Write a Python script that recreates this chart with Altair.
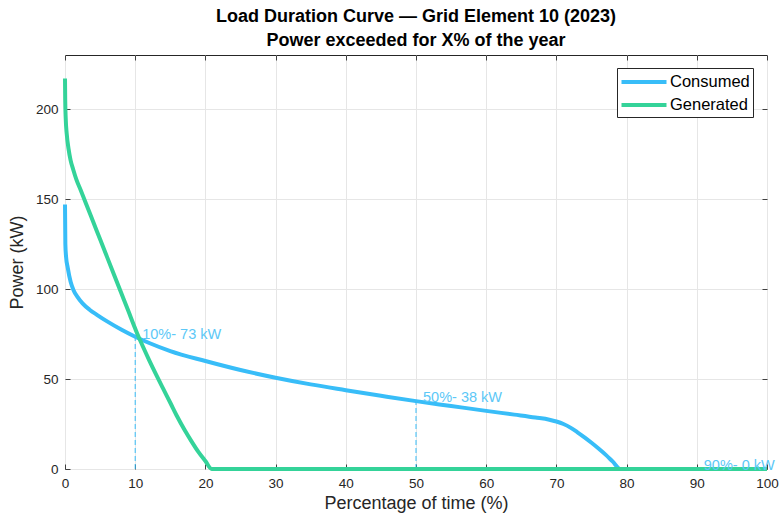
import altair as alt
import pandas as pd

# Consumed load duration curve (x: % of time, y: kW)
cons_x = [0, 0.05, 0.15, 0.38, 0.8, 1.2, 1.8, 2.5, 3.5, 4.6, 6, 8, 10, 12, 15, 20, 25, 30, 35, 40, 45, 50, 55, 60, 64, 67, 69, 70, 71, 72, 73, 74, 75, 76, 77, 78, 79.1, 100]
cons_y = [147, 125, 118, 112, 104, 99.5, 95.5, 92, 88.5, 85.5, 82, 77.5, 73.5, 70, 65.5, 60, 55, 50.7, 47, 43.8, 40.7, 37.7, 35, 32.3, 30.2, 28.6, 27.4, 26.4, 25, 23, 20.4, 17.6, 14.6, 11.4, 8, 4.2, 0, 0]

# Generated load duration curve
gen_x = [0, 0.03, 0.1, 0.25, 0.5, 0.8, 1.2, 1.6, 2.23, 3, 4, 5, 6, 7, 8, 9, 10, 10.45, 11, 12, 13, 14, 15, 16, 17, 18, 19, 20, 20.9, 100]
gen_y = [217, 205, 195, 186, 178, 171.5, 166, 161, 155, 147.4, 137.5, 127.6, 117.7, 107.8, 97.9, 88, 78, 73.7, 68.9, 60.4, 52.3, 44.5, 36.8, 29, 21.9, 15.5, 9.5, 4.4, 0, 0]

# Marked percentiles
mark_x = [10, 50, 90]
mark_y = [73, 38, 0]
mark_label = ["10%- 73 kW", "50%- 38 kW", "90%- 0 kW"]

# Axis tick values
x_ticks = list(range(0, 101, 10))
y_ticks = [0, 50, 100, 150, 200]

series = ["Consumed", "Generated"]
colors = ["#38bdf8", "#34d399"]

df = pd.concat([
    pd.DataFrame({"x": cons_x, "y": cons_y, "series": "Consumed", "order": range(len(cons_x))}),
    pd.DataFrame({"x": gen_x, "y": gen_y, "series": "Generated", "order": range(len(gen_x))}),
])
marks = pd.DataFrame({"x": mark_x, "y": mark_y, "label": mark_label, "y0": [0] * len(mark_x)})

FONT = "Liberation Sans"
TICK = "#404040"

xscale = alt.Scale(domain=[0, 100], nice=False, zero=False)
yscale = alt.Scale(domain=[0, 230], nice=False)

# main axes: labels + grid, no ticks
xaxis = alt.Axis(title="Percentage of time (%)", values=x_ticks, format="d",
                 grid=True, domain=False, ticks=False, labelPadding=7, titlePadding=5,
                 labelFlush=False)
yaxis = alt.Axis(title="Power (kW)", values=y_ticks, format="d",
                 grid=True, domain=False, ticks=False, labelPadding=7, titlePadding=9,
                 labelFlush=False)


def tick_axis(orient, vals):
    # inward tick marks (MATLAB style box)
    return alt.Axis(orient=orient, values=vals, title=None, labels=False, grid=False,
                    domain=False, ticks=True, tickSize=5, offset=-5, tickColor=TICK)


dashes = alt.Chart(marks).mark_rule(color="#38bdf8", strokeDash=[5, 3], strokeWidth=1).encode(
    x=alt.X("x:Q", scale=xscale, axis=xaxis),
    y=alt.Y("y0:Q", scale=yscale, axis=yaxis),
    y2="y:Q",
)

lines = alt.Chart(df).mark_line(strokeWidth=4, clip=False, interpolate="monotone").encode(
    x=alt.X("x:Q", scale=xscale, axis=tick_axis("bottom", x_ticks)),
    y=alt.Y("y:Q", scale=yscale, axis=tick_axis("left", y_ticks)),
    color=alt.Color("series:N", scale=alt.Scale(domain=series, range=colors),
                    legend=alt.Legend(title=None, orient="none", legendX=552, legendY=13,
                                      symbolType="M-2.5,0H2.5", symbolSize=324, symbolStrokeWidth=4,
                                      symbolOffset=13, labelOffset=15,
                                      labelFontSize=16.5, labelFont=FONT, labelColor="#000000",
                                      strokeColor="#262626", fillColor="#ffffff", padding=3,
                                      rowPadding=3)),
    order="order:Q",
)

texts = alt.Chart(marks).mark_text(align="left", baseline="alphabetic", dx=7, dy=1,
                                   fontSize=14.5, font=FONT, color="#5cc8f7").encode(
    x=alt.X("x:Q", scale=xscale, axis=tick_axis("top", x_ticks)),
    y=alt.Y("y:Q", scale=yscale, axis=tick_axis("right", y_ticks)),
    text="label:N",
)

chart = alt.layer(dashes, lines, texts).resolve_axis(
    x="independent", y="independent"
).properties(
    width=702, height=414,
    title=alt.TitleParams(["Load Duration Curve \u2014 Grid Element 10 (2023)", "Power exceeded for X% of the year"],
                          fontSize=18, fontWeight="bold", font=FONT, color="#000000",
                          anchor="middle", lineHeight=24, offset=5),
    padding={"left": 65, "top": 55, "right": 12, "bottom": 49},
    autosize="none",
).configure_view(
    stroke="#262626", strokeWidth=1
).configure_axis(
    labelFont=FONT, titleFont=FONT, labelFontSize=13.5, titleFontSize=18,
    labelColor="#262626", titleColor="#262626", titleFontWeight="normal",
    gridColor="#e6e6e6", gridWidth=1,
)

chart.save("out.html", embed_options={"renderer": "svg", "actions": False})
